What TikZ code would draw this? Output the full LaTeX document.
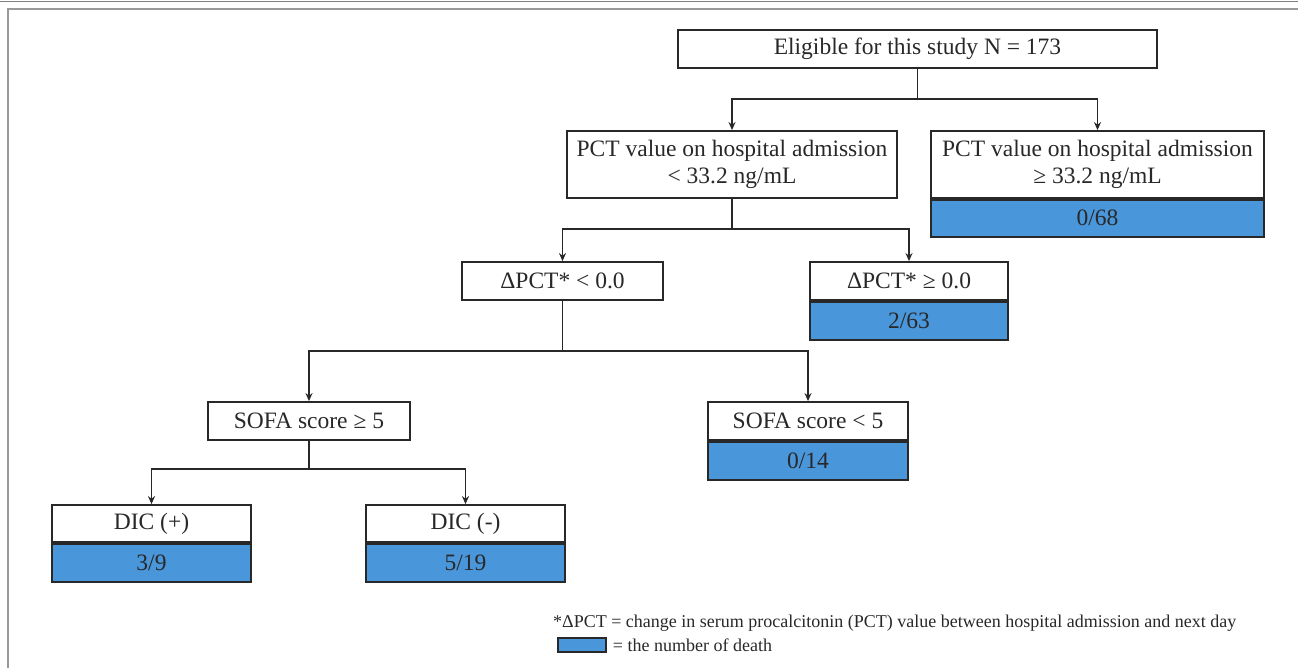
\documentclass[tikz,border=0pt]{standalone}
\usepackage{fontspec}
\setmainfont{Liberation Serif}
\usetikzlibrary{arrows.meta}
\definecolor{deathblue}{RGB}{74,150,218}
\definecolor{inkgray}{RGB}{40,40,40}
\tikzset{
  box/.style={draw=inkgray, line width=1.8pt, fill=white, inner sep=2pt, align=center,
    text=inkgray, font=\fontsize{23.5}{27}\selectfont},
  deadbox/.style={box, fill=deathblue},
  link/.style={draw=inkgray, line width=1.8pt},
  arr/.style={link, -{Stealth[length=8pt,width=7pt]}}
}
\begin{document}
\begin{tikzpicture}[x=1pt, y=-1pt]
  \useasboundingbox (0,0) rectangle (1298,668);
  % frame
  \draw[gray, line width=1pt] (0,2) -- (1298,2);
  \draw[gray!80, line width=2pt] (8,668) -- (8,9) -- (1298,9);

  % boxes
  \node[box, minimum width=479, minimum height=38] (elig) at (917.5,49) {Eligible for this study N = 173};

  \node[box, minimum width=330, minimum height=67] (pctlow) at (732,164.5) {PCT value on hospital admission\\< 33.2 ng/mL};
  \node[box, minimum width=333, minimum height=67] (pcthigh) at (1097.5,164.5) {PCT value on hospital admission\\≥ 33.2 ng/mL};
  \node[deadbox, minimum width=333, minimum height=37, anchor=north] (pcthighn) at (pcthigh.south) {0/68};

  \node[box, minimum width=201, minimum height=38] (dneg) at (562.5,281) {ΔPCT* < 0.0};
  \node[box, minimum width=198, minimum height=38] (dpos) at (909,281) {ΔPCT* ≥ 0.0};
  \node[deadbox, minimum width=198, minimum height=38, anchor=north] (dposn) at (dpos.south) {2/63};

  \node[box, minimum width=202, minimum height=38] (sofahi) at (309,421) {SOFA score ≥ 5};
  \node[box, minimum width=200, minimum height=38] (sofalo) at (808,421) {SOFA score < 5};
  \node[deadbox, minimum width=200, minimum height=38, anchor=north] (sofalon) at (sofalo.south) {0/14};

  \node[box, minimum width=199, minimum height=37] (dicpos) at (151.5,523.5) {DIC (+)};
  \node[deadbox, minimum width=199, minimum height=38, anchor=north] (dicposn) at (dicpos.south) {3/9};
  \node[box, minimum width=199, minimum height=37] (dicneg) at (465.5,523.5) {DIC (-)};
  \node[deadbox, minimum width=199, minimum height=38, anchor=north] (dicnegn) at (dicneg.south) {5/19};

  % connectors
  \draw[link] (elig.south) -- ++(0,30) coordinate (j1);
  \draw[arr] (j1) -| (pctlow.north);
  \draw[arr] (j1) -| (pcthigh.north);

  \draw[link] (pctlow.south) -- ++(0,30) coordinate (j2);
  \draw[arr] (j2) -| (dneg.north);
  \draw[arr] (j2) -| (dpos.north);

  \draw[link] (dneg.south) -- ++(0,50) coordinate (j3);
  \draw[arr] (j3) -| (sofahi.north);
  \draw[arr] (j3) -| (sofalo.north);

  \draw[link] (sofahi.south) -- ++(0,28) coordinate (j4);
  \draw[arr] (j4) -| (dicpos.north);
  \draw[arr] (j4) -| (dicneg.north);

  % legend
  \node[anchor=west, inner sep=0pt, text=inkgray, font=\fontsize{18}{21}\selectfont] (note) at (553,623)
    {*ΔPCT = change in serum procalcitonin (PCT) value\ between hospital admission and next day};
  \node[deadbox, line width=1.4pt, minimum width=48, minimum height=14, inner sep=0pt] (key) at (582,645) {};
  \node[anchor=west, inner sep=0pt, text=inkgray, font=\fontsize{18}{21}\selectfont] (keytext) at ([xshift=6pt]key.east) {= the number of death};
\end{tikzpicture}
\end{document}
